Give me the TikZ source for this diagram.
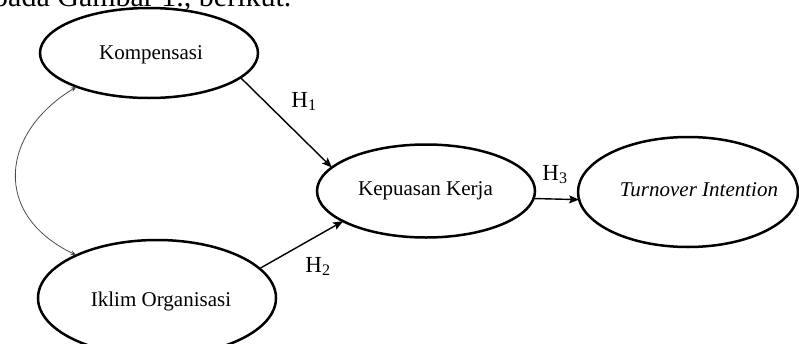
\documentclass[tikz,border=0pt]{standalone}
\usepackage{fontspec}
\setmainfont{Liberation Serif}
\usetikzlibrary{shapes.geometric,arrows.meta}
\begin{document}
\begin{tikzpicture}[x=1pt,y=-1pt,
  oval/.style={ellipse,draw,line width=2.5pt,inner sep=0pt,outer sep=0pt},
  vartext/.style={inner sep=0pt,anchor=base,font=\fontsize{21}{24}\selectfont},
  hyp/.style={inner sep=0pt,anchor=base,font=\fontsize{23}{26}\selectfont},
  causal/.style={-{Stealth[length=10pt,width=8pt,inset=2pt]},line width=1.4pt},
  corr/.style={{Stealth[length=6pt,width=4.5pt]}-{Stealth[length=6pt,width=4.5pt]},line width=0.8pt,black!70}
]
\useasboundingbox (0,0) rectangle (799,343);

% running text above the figure
\node[anchor=base west,inner sep=0pt,font=\fontsize{30}{36}\selectfont] (intro) at (-7,6) {pada Gambar 1., berikut.};

% latent variables
\node[oval,minimum width=218pt,minimum height=90pt] (komp) at (149,53) {};
\node[oval,minimum width=238pt,minimum height=116pt] (iklim) at (157,298) {};
\node[oval,minimum width=218pt,minimum height=93pt] (kep) at (426,191) {};
\node[oval,minimum width=220pt,minimum height=110pt] (turn) at (688,192) {};

\node[vartext] (kompT) at (151,59) {Kompensasi};
\node[vartext] (iklimT) at (161,306) {Iklim Organisasi};
\node[vartext] (kepT) at (425.5,195) {Kepuasan Kerja};
\node[vartext] (turnT) at (699,196) {\itshape Turnover Intention};

% hypothesised paths
\draw[causal] (komp.-15) -- (kep.166);
\draw[causal] (iklim.16) -- (kep.200);
\draw[causal] (kep.-4) -- (turn.184);

\node[hyp] (h1) at (304,107) {H\textsubscript{1}};
\node[hyp] (h2) at (318,272) {H\textsubscript{2}};
\node[hyp] (h3) at (555,180) {H\textsubscript{3}};

% correlation between the exogenous variables
\draw[corr] (komp.205) .. controls (0,133) and (-8,215) .. (iklim.152);
\end{tikzpicture}
\end{document}
